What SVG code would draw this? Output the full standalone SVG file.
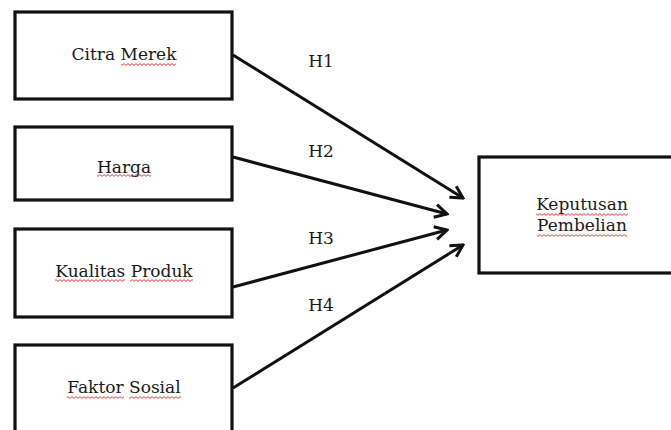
<svg xmlns="http://www.w3.org/2000/svg" width="671" height="430" viewBox="0 0 671 430">
<style>
.box{fill:#fff;stroke:#111;stroke-width:3.2}
.lbl{font-family:"DejaVu Serif","Liberation Serif",serif;font-size:17px;fill:#1a1a1a;text-anchor:middle}
.edge{stroke:#111;stroke-width:3;fill:none}
.sq{fill:url(#wave)}
</style>
<defs>
<marker id="ah" markerUnits="userSpaceOnUse" viewBox="-14 -8 16 16" markerWidth="16" markerHeight="16" refX="0" refY="0" orient="auto">
<path d="M-12,-6.5 L0,0 L-12,6.5" fill="none" stroke="#111" stroke-width="3" stroke-linejoin="miter"/>
</marker>
<pattern id="wave" patternUnits="userSpaceOnUse" width="4" height="3">
<path d="M0,0.6 L2,2.4 L4,0.6" fill="none" stroke="#e0282a" stroke-width="0.9"/>
</pattern>
</defs>
<rect width="671" height="430" fill="#fff"/>
<g id="n1"><rect class="box" x="15" y="12" width="217" height="87"/><text class="lbl" x="124" y="60">Citra Merek</text><rect class="sq" x="121" y="63" width="55" height="3"/></g>
<g id="n2"><rect class="box" x="15" y="127" width="217" height="73"/><text class="lbl" x="124" y="173">Harga</text><rect class="sq" x="97" y="174" width="54" height="3"/></g>
<g id="n3"><rect class="box" x="15" y="229" width="217" height="88"/><text class="lbl" x="124" y="277">Kualitas Produk</text><rect class="sq" x="55" y="279" width="70" height="3"/><rect class="sq" x="130" y="279" width="63" height="3"/></g>
<g id="n4"><rect class="box" x="15" y="345" width="217" height="100"/><text class="lbl" x="124" y="393">Faktor Sosial</text><rect class="sq" x="67" y="396" width="57" height="3"/><rect class="sq" x="129" y="396" width="52" height="3"/></g>
<g id="n5"><rect class="box" x="479" y="157" width="215" height="116"/><text class="lbl" x="582" y="210">Keputusan</text><text class="lbl" x="582" y="231">Pembelian</text><rect class="sq" x="536" y="213" width="92" height="3"/><rect class="sq" x="537" y="234" width="90" height="3"/></g>
<g id="edges">
<line class="edge" x1="233" y1="55" x2="463" y2="198" marker-end="url(#ah)"/>
<line class="edge" x1="233" y1="157" x2="447" y2="214" marker-end="url(#ah)"/>
<line class="edge" x1="233" y1="287" x2="447" y2="230" marker-end="url(#ah)"/>
<line class="edge" x1="233" y1="388" x2="463" y2="245" marker-end="url(#ah)"/>
<text class="lbl" x="321" y="67">H1</text>
<text class="lbl" x="321" y="157">H2</text>
<text class="lbl" x="321" y="244">H3</text>
<text class="lbl" x="321" y="311">H4</text>
</g>
</svg>
